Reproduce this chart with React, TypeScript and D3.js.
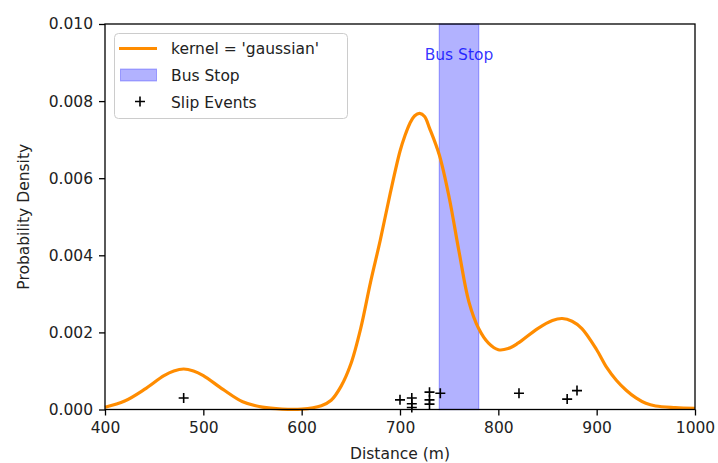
import React, { useEffect, useRef } from 'react';
import * as d3 from 'd3';

// KDE curve (distance in m, density)
const curveX = [400, 420, 440, 460, 470, 480, 490, 500, 520, 540, 560, 580, 600, 620, 630, 640, 650, 660, 670, 680, 690, 700, 705, 710, 715, 720, 725, 730, 740, 750, 760, 770, 780, 790, 800, 810, 820, 840, 855, 865, 875, 885, 900, 910, 920, 930, 940, 950, 960, 980, 1000];
const curveY = [0.00006, 0.00022, 0.00052, 0.00088, 0.001, 0.00105, 0.001, 0.00088, 0.00052, 0.0002, 0.00006, 0.00001, 0.00001, 0.0001, 0.00024, 0.0006, 0.00118, 0.0021, 0.0033, 0.0044, 0.0056, 0.0067, 0.0071, 0.00742, 0.00762, 0.00768, 0.0076, 0.0073, 0.0066, 0.0055, 0.0041, 0.0028, 0.0021, 0.00172, 0.00155, 0.00158, 0.00172, 0.0021, 0.00231, 0.00236, 0.00229, 0.0021, 0.00155, 0.0011, 0.00076, 0.0005, 0.0003, 0.00016, 0.00009, 0.00005, 0.00003];

// slip events (distance, jittered height)
const slipX = [480, 700, 712, 712, 712, 730, 730, 730, 741, 821, 870, 880];
const slipY = [0.0003, 0.00025, 0.0003, 0.00015, 0.00005, 0.00045, 0.00025, 0.00014, 0.00042, 0.00042, 0.00027, 0.00049];

const busStop = [740, 780];
const xTicks = [400, 500, 600, 700, 800, 900, 1000];
const yTicks = [0, 0.002, 0.004, 0.006, 0.008, 0.01];

const W = 718;
const H = 463;
const FONT = 'DejaVu Sans, sans-serif';
const FS = 15.5;

const App = () => {
  const ref = useRef<SVGSVGElement>(null);

  useEffect(() => {
    const svg = d3.select(ref.current);
    svg.selectAll('*').remove();

    const left = 105, right = 695, top = 24, bottom = 409.5;
    const x = d3.scaleLinear().domain([400, 1000]).range([left, right]);
    const y = d3.scaleLinear().domain([0, 0.01]).range([bottom, top]);

    svg.append('rect').attr('width', W).attr('height', H).attr('fill', '#fff');

    // bus stop span
    svg.append('rect')
      .attr('x', x(busStop[0]))
      .attr('y', top)
      .attr('width', x(busStop[1]) - x(busStop[0]))
      .attr('height', bottom - top)
      .attr('fill', '#0000ff')
      .attr('fill-opacity', 0.3)
      .attr('stroke', '#0000ff')
      .attr('stroke-opacity', 0.3)
      .attr('stroke-width', 1.3);

    svg.append('text')
      .attr('x', x((busStop[0] + busStop[1]) / 2))
      .attr('y', 59.5)
      .attr('text-anchor', 'middle')
      .attr('fill', '#0000ff')
      .attr('fill-opacity', 0.8)
      .style('font-family', FONT)
      .style('font-size', FS + 'px')
      .text('Bus Stop');

    // kde line
    const pts = curveX.map((d, i) => [d, curveY[i]] as [number, number]);
    const line = d3.line<[number, number]>()
      .x(d => x(d[0]))
      .y(d => y(d[1]))
      .curve(d3.curveCatmullRom.alpha(0.5));
    svg.append('path')
      .attr('d', line(pts))
      .attr('fill', 'none')
      .attr('stroke', '#ff8c00')
      .attr('stroke-width', 3.2);

    // slip events
    const plus = (g: any, cx: number, cy: number) => {
      g.append('path')
        .attr('d', `M${cx - 5},${cy}H${cx + 5}M${cx},${cy - 5}V${cy + 5}`)
        .attr('stroke', '#000')
        .attr('stroke-width', 1.6)
        .attr('fill', 'none');
    };
    const ev = svg.append('g');
    slipX.forEach((d, i) => plus(ev, x(d), y(slipY[i])));

    // frame
    svg.append('rect')
      .attr('x', left).attr('y', top)
      .attr('width', right - left).attr('height', bottom - top)
      .attr('fill', 'none').attr('stroke', '#000').attr('stroke-width', 1.3);

    // x axis
    const xa = svg.append('g').attr('transform', `translate(0,${bottom})`)
      .call(d3.axisBottom(x).tickValues(xTicks).tickSize(6).tickPadding(6).tickFormat(d3.format('d')));
    xa.select('.domain').remove();
    xa.selectAll('line').attr('stroke-width', 1.3);
    xa.selectAll('text').style('font-family', FONT).style('font-size', FS + 'px').attr('fill', '#222');

    const ya = svg.append('g').attr('transform', `translate(${left},0)`)
      .call(d3.axisLeft(y).tickValues(yTicks).tickSize(6).tickPadding(6).tickFormat(d3.format('.3f')));
    ya.select('.domain').remove();
    ya.selectAll('line').attr('stroke-width', 1.3);
    ya.selectAll('text').style('font-family', FONT).style('font-size', FS + 'px').attr('fill', '#222');

    svg.append('text')
      .attr('x', (left + right) / 2).attr('y', 459)
      .attr('text-anchor', 'middle')
      .attr('fill', '#222')
      .style('font-family', FONT).style('font-size', FS + 'px')
      .text('Distance (m)');

    svg.append('text')
      .attr('transform', `translate(29,${(top + bottom) / 2}) rotate(-90)`)
      .attr('text-anchor', 'middle')
      .attr('fill', '#222')
      .style('font-family', FONT).style('font-size', FS + 'px')
      .text('Probability Density');

    // legend
    const lg = svg.append('g');
    lg.append('rect')
      .attr('x', 114.5).attr('y', 33.5).attr('width', 233).attr('height', 85).attr('rx', 4)
      .attr('fill', '#fff').attr('fill-opacity', 0.8)
      .attr('stroke', '#ccc').attr('stroke-width', 1);
    lg.append('line')
      .attr('x1', 119).attr('x2', 157).attr('y1', 48.5).attr('y2', 48.5)
      .attr('stroke', '#ff8c00').attr('stroke-width', 3.2);
    lg.append('rect')
      .attr('x', 120.5).attr('y', 69).attr('width', 36).attr('height', 12)
      .attr('fill', '#0000ff').attr('fill-opacity', 0.3)
      .attr('stroke', '#0000ff').attr('stroke-opacity', 0.3);
    plus(lg, 140, 101.5);
    const labels = ["kernel = 'gaussian'", 'Bus Stop', 'Slip Events'];
    labels.forEach((t, i) => {
      lg.append('text')
        .attr('x', 171).attr('y', 54 + i * 26.8)
        .attr('fill', '#222')
        .style('font-family', FONT).style('font-size', FS + 'px')
        .text(t);
    });
  }, []);

  return (
    <div style={{ position: 'absolute', left: 0, top: 0 }}>
      <svg ref={ref} width={W} height={H} style={{ display: 'block' }}></svg>
    </div>
  );
};

export default App;
